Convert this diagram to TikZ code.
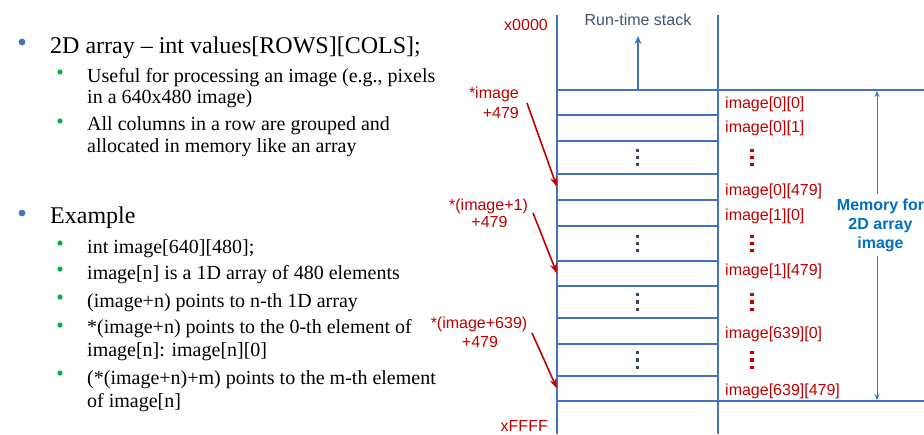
\documentclass[tikz,border=0pt]{standalone}
\usepackage{fontspec}
\setmainfont{Liberation Serif}
\setsansfont{Liberation Sans}
\usetikzlibrary{arrows.meta}
\definecolor{memblue}{HTML}{4472C4}
\definecolor{memred}{HTML}{C00000}
\definecolor{stackgray}{HTML}{44546A}
\definecolor{dotgray}{HTML}{3A475E}
\definecolor{boldblue}{HTML}{0070C0}
\definecolor{bulgreen}{HTML}{00B050}
\begin{document}
\begin{tikzpicture}[x=1pt,y=-1pt,
  lvlone/.style={anchor=base west,inner sep=0pt,font=\fontsize{24}{28}\selectfont},
  lvltwo/.style={anchor=base west,inner sep=0pt,font=\fontsize{20}{23}\selectfont},
  cellbox/.style={draw=memblue,line width=2pt,minimum width=161pt,inner sep=0pt,outer sep=0pt,anchor=north west},
  redlbl/.style={anchor=base west,inner sep=0pt,text=memred,font=\sffamily\fontsize{16}{19}\selectfont},
  ptrlbl/.style={anchor=base,inner sep=0pt,text=memred,font=\sffamily\fontsize{16}{19}\selectfont},
  ptrarrow/.style={draw=memred,line width=1.6pt,-{Stealth[length=10pt,width=7pt]}},
  memline/.style={draw=memblue,line width=2pt},
  vdot/.style={fill=#1,minimum size=3.2pt,inner sep=0pt,outer sep=0pt,shape=rectangle}]
\useasboundingbox (0,0) rectangle (924,434);
% ---------- bullets ----------
\fill[memblue] (22,42) circle (3.4pt);
\node[lvlone] (b1) at (50,53) {2D array -- int values[ROWS][COLS];};
\fill[bulgreen] (60,72) circle (2.6pt);
\node[lvltwo] (b1a) at (87,82) {Useful for processing an image (e.g., pixels};
\node[lvltwo] (b1b) at (87,103) {in a 640x480 image)};
\fill[bulgreen] (60,121) circle (2.6pt);
\node[lvltwo] (b2a) at (87,130) {All columns in a row are grouped and};
\node[lvltwo] (b2b) at (87,152) {allocated in memory like an array};
\fill[memblue] (22,213) circle (3.4pt);
\node[lvlone] (b2) at (50,223) {Example};
\fill[bulgreen] (60,243) circle (2.6pt);
\node[lvltwo] (e1) at (87,253) {int image[640][480];};
\fill[bulgreen] (60,269) circle (2.6pt);
\node[lvltwo] (e2) at (87,279) {image[n] is a 1D array of 480 elements};
\fill[bulgreen] (60,297) circle (2.6pt);
\node[lvltwo] (e3) at (87,307) {(image+n) points to n-th 1D array};
\fill[bulgreen] (60,325) circle (2.6pt);
\node[lvltwo] (e4a) at (87,333) {*(image+n) points to the 0-th element of};
\node[lvltwo] (e4b) at (87,356) {image[n]: image[n][0]};
\fill[bulgreen] (60,373) circle (2.6pt);
\node[lvltwo] (e5a) at (87,384) {(*(image+n)+m) points to the m-th element};
\node[lvltwo] (e5b) at (87,407) {of image[n]};
% ---------- memory ----------
\draw[memline] (557,15) -- (557,434);
\draw[memline] (718,15) -- (718,434);
\foreach \n/\t/\b in {1/90/115,2/115/141,3/141/174,4/174/200,5/200/226,6/226/261,7/261/286,8/286/318,9/318/344,10/344/376,11/376/401}
  \node[cellbox,minimum height={(\b-\t)*1pt}] (c\n) at (557,\t) {};
\coordinate (topr) at (924,90);
\coordinate (botr) at (924,401);
\draw[memline] (c1.north east) -- (topr);
\draw[memline] (c11.south east) -- (botr);
% in-cell dots
\foreach \n in {3,6,8,10}{
  \node[vdot=dotgray] at ([yshift=7.2pt]c\n.center) {};
  \node[vdot=dotgray] at (c\n.center) {};
  \node[vdot=dotgray] at ([yshift=-7.2pt]c\n.center) {};
}
% run-time stack
\node[inner sep=0pt,text=stackgray,font=\sffamily\fontsize{16}{19}\selectfont] (rts) at (638,20) {Run-time stack};
\coordinate (rtsend) at (638,36);
\draw[memline,-{Stealth[length=8pt,width=7pt]}] (c1.north -| rtsend) -- (rtsend);
% addresses
\node[anchor=base east,inner sep=0pt,text=memred,font=\sffamily\fontsize{16}{19}\selectfont] (a0) at (548,30) {x0000};
\node[anchor=base east,inner sep=0pt,text=memred,font=\sffamily\fontsize{16}{19}\selectfont] (af) at (548,431) {xFFFF};
% element labels
\node[redlbl] (l1) at (725,108) {image[0][0]};
\node[redlbl] (l2) at (725,132) {image[0][1]};
\node[redlbl] (l3) at (725,195) {image[0][479]};
\node[redlbl] (l4) at (725,220) {image[1][0]};
\node[redlbl] (l5) at (725,275) {image[1][479]};
\node[redlbl] (l6) at (725,338) {image[639][0]};
\node[redlbl] (l7) at (725,395) {image[639][479]};
\coordinate (rdx) at (752,0);
\foreach \n in {3,6,8,10}{
  \node[vdot=memred] at ([yshift=7.2pt]c\n.center -| rdx) {};
  \node[vdot=memred] at (c\n.center -| rdx) {};
  \node[vdot=memred] at ([yshift=-7.2pt]c\n.center -| rdx) {};
}
% memory dimension
\coordinate (mtop) at (877,91);
\coordinate (mbot) at (877,400);
\draw[draw=memblue,line width=1pt,{Stealth[length=6pt,width=5pt]}-{Stealth[length=6pt,width=5pt]}] (mtop) -- (mbot);
\node[fill=white,inner xsep=1pt,inner ysep=5pt,align=center,text=boldblue,font=\sffamily\bfseries\fontsize{16}{19}\selectfont] (memtxt) at (880.5,225) {Memory for\\2D array\\image};
% pointer labels
\node[ptrlbl,anchor=base east] (p1a) at (519,98) {*image};
\node[ptrlbl,anchor=base east] (p1b) at (519,118) {+479};
\coordinate (p1s) at (527,103);
\draw[ptrarrow] (p1s) -- (c4.west);
\node[ptrlbl] (p2a) at (488.5,210) {*(image+1)};
\node[ptrlbl] (p2b) at (489.5,227) {+479};
\coordinate (p2s) at (533,213);
\draw[ptrarrow] (p2s) -- (c7.west);
\node[ptrlbl] (p3a) at (479,328) {*(image+639)};
\node[ptrlbl] (p3b) at (480,347) {+479};
\coordinate (p3s) at (532,333);
\draw[ptrarrow] (p3s) -- (c11.west);
\end{tikzpicture}
\end{document}
